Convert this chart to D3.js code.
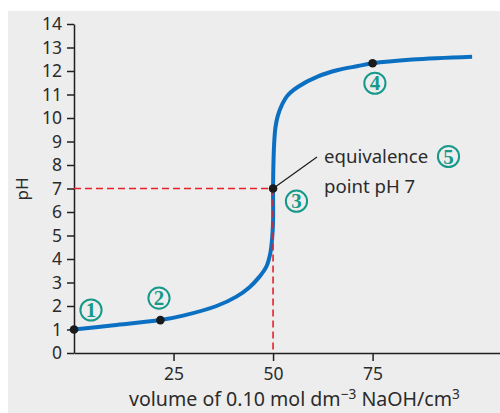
<!DOCTYPE html>
<html>
<head>
<meta charset="utf-8">
<script src="https://cdn.jsdelivr.net/npm/d3@7"></script>
<style>
  html, body { margin: 0; padding: 0; background: #ffffff; }
  svg { display: block; }
  text { font-family: "Noto Sans", "Open Sans", sans-serif; fill: #2b2b2b; }
</style>
</head>
<body>
<svg id="chart" width="500" height="413"></svg>
<script>
// Titration curve: strong acid titrated with 0.10 mol dm-3 NaOH
const volume = [0, 10, 21.7, 27.4, 35.8, 40.8, 44.1, 46.6, 48.3, 49.3, 49.8, 50, 50, 50.1, 50.3, 50.6, 51.2, 52.2, 53.6, 56.3, 61.3, 66.3, 71.3, 75, 85, 100];
const pH     = [1.0, 1.18, 1.40, 1.59, 2.0, 2.4, 2.8, 3.25, 3.67, 4.24, 4.95, 5.6, 7.0, 8.1, 9.0, 9.6, 10.1, 10.55, 10.95, 11.33, 11.77, 12.04, 12.21, 12.33, 12.49, 12.61];

// Marked points on the curve and their circled numbers
const markVolume = [0, 21.7, 50, 75];
const markPH     = [1.0, 1.40, 7.0, 12.33];
const markNumber = ["1", "2", "3", "4"];

const yTicks = d3.range(0, 15);
const xTicks = [25, 50, 75];
const equivalence = { volume: 50, pH: 7 };
const noteLines = ["equivalence", "point pH 7"];
const noteNumber = "5";

const svg = d3.select("#chart");
const teal = "#17998a";

// panel background
svg.append("rect").attr("x", 8).attr("y", 11).attr("width", 492).attr("height", 402).attr("fill", "#ededed");

const x = d3.scaleLinear().domain([0, 107]).range([74, 500]);
const y = d3.scaleLinear().domain([0, 14]).range([353, 24]);

// axes
const yAxis = svg.append("g").attr("transform", `translate(${x(0)},0)`)
  .call(d3.axisLeft(y).tickValues(yTicks).tickSize(7).tickSizeOuter(0).tickPadding(5).tickFormat(d3.format("d")));
const xAxis = svg.append("g").attr("transform", `translate(0,${y(0)})`)
  .call(d3.axisBottom(x).tickValues(xTicks).tickSize(8).tickSizeOuter(0).tickPadding(7));
[yAxis, xAxis].forEach(g => {
  g.select(".domain").attr("stroke", "#231f20").attr("stroke-width", 1.5);
  g.selectAll(".tick line").attr("stroke", "#231f20").attr("stroke-width", 1.5);
  g.selectAll(".tick text")
    .attr("font-family", "'Noto Sans', sans-serif")
    .attr("font-size", 17.5)
    .attr("fill", "#2b2b2b");
});

// titration curve
const line = d3.line().x(d => x(d[0])).y(d => y(d[1])).curve(d3.curveCatmullRom.alpha(0.5));
svg.append("path")
  .datum(volume.map((v, i) => [v, pH[i]]))
  .attr("d", line)
  .attr("fill", "none")
  .attr("stroke", "#0b70c2")
  .attr("stroke-width", 4)
  .attr("stroke-linecap", "butt");

// dashed guides to the equivalence point
const dash = svg.append("g").attr("stroke", "#e8202a").attr("stroke-width", 1.6).attr("stroke-dasharray", "7,4");
dash.append("line").attr("x1", x(0)).attr("x2", x(equivalence.volume)).attr("y1", y(equivalence.pH)).attr("y2", y(equivalence.pH));
dash.append("line").attr("x1", x(equivalence.volume)).attr("x2", x(equivalence.volume)).attr("y1", y(equivalence.pH)).attr("y2", y(0));

// leader line to the note
svg.append("line")
  .attr("x1", x(equivalence.volume)).attr("y1", y(equivalence.pH))
  .attr("x2", 317).attr("y2", 157)
  .attr("stroke", "#1a1a1a").attr("stroke-width", 1.2);

// marked points
svg.append("g").selectAll("circle")
  .data(markVolume)
  .join("circle")
  .attr("cx", d => x(d))
  .attr("cy", (d, i) => y(markPH[i]))
  .attr("r", 4.3)
  .attr("fill", "#1a1a1a");

// circled numbers
function circled(cx, cy, label) {
  const g = svg.append("g").attr("transform", `translate(${cx},${cy})`);
  g.append("circle").attr("r", 10.6).attr("fill", "none").attr("stroke", teal).attr("stroke-width", 2);
  g.append("text").text(label)
    .attr("text-anchor", "middle").attr("y", 7)
    .style("font-family", "'Liberation Serif', 'DejaVu Serif', serif")
    .style("font-weight", "bold").style("font-size", "21px").style("fill", teal);
}
const labelOffset = [[17, -19.5], [-1.4, -22], [23.4, 12.7], [2.3, 20]];
markVolume.forEach((v, i) => circled(x(v) + labelOffset[i][0], y(markPH[i]) + labelOffset[i][1], markNumber[i]));

// note text
const note = svg.append("text").attr("font-size", 18.6).attr("fill", "#2b2b2b");
note.append("tspan").attr("x", 324).attr("y", 163).text(noteLines[0]);
note.append("tspan").attr("x", 324).attr("y", 192.5).text(noteLines[1]);
circled(448.5, 156.5, noteNumber);

// axis titles
svg.append("text")
  .attr("transform", "translate(28,189) rotate(-90)")
  .attr("text-anchor", "middle")
  .attr("font-size", 17)
  .text("pH");

// x title, sized so it spans the width under the axis (x 129 to 460)
const xt = svg.append("text").attr("x", 129).attr("y", 406);
const xtMain = [xt.append("tspan").text("volume of 0.10 mol dm")];
const xtSup1 = xt.append("tspan").text("\u22123");
xtMain.push(xt.append("tspan").text(" NaOH/cm"));
const xtSup2 = xt.append("tspan").text("3");
function sizeTitle(fs) {
  xt.attr("font-size", fs);
  const sup = fs * 0.7, rise = fs * 0.38;
  [xtSup1, xtSup2].forEach(s => s.attr("font-size", sup).attr("dy", -rise));
  xtMain[1].attr("dy", rise);
}
sizeTitle(18);
const measured = xt.node().getComputedTextLength();
sizeTitle(18 * 331 / measured);
</script>
</body>
</html>
